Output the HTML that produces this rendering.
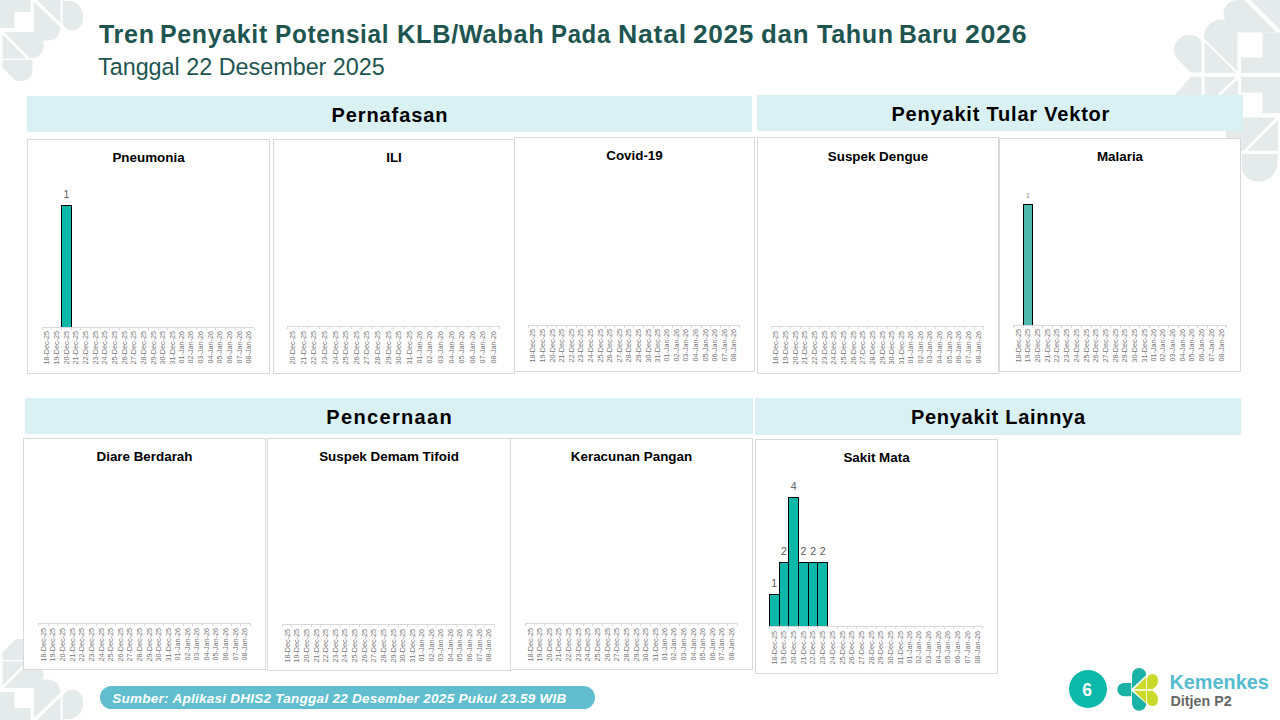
<!DOCTYPE html>
<html><head><meta charset="utf-8">
<style>
*{margin:0;padding:0;box-sizing:border-box}
html,body{width:1280px;height:720px;overflow:hidden;background:#fff}
body{position:relative;font-family:"Liberation Sans",sans-serif}
.abs{position:absolute}
#deco{position:absolute;left:0;top:0;width:1280px;height:720px}
#deco path{fill:#E5EBEB}
.tw{position:absolute;top:0;transform-origin:0 0}
.title{position:absolute;left:0;top:19.6px;font-size:25px;font-weight:bold;color:#1E5551;white-space:nowrap;letter-spacing:0.675px}
.sub{position:absolute;left:98px;top:53.8px;font-size:23.35px;color:#1E5551;white-space:nowrap}
.sec{position:absolute;background:#DAF1F3;font-weight:bold;font-size:20px;color:#000;text-align:center;white-space:nowrap}
.box{position:absolute;background:#fff;border:1px solid #D9D9D9}
.ctitle{position:absolute;width:200px;text-align:center;font-size:13.4px;font-weight:bold;color:#000;white-space:nowrap;line-height:15px}
.bar{position:absolute;border:1px solid #000}
.vlab{position:absolute;width:20px;text-align:center;line-height:1.2}
.axis{position:absolute;height:1px;background:#D9D9D9}
.tick{position:absolute;width:1px;height:2.5px;background:#D9D9D9}
.xl{position:absolute;width:0;height:0}
.xl span{position:absolute;right:0;top:0;transform-origin:100% 0;transform:rotate(-90deg) translate(0,-50%);font-size:7.2px;color:#737373;white-space:nowrap;line-height:8px}
.pill{position:absolute;left:100px;top:686px;width:495px;height:23px;border-radius:11.5px;background:#60BECE;color:#fff;font-weight:bold;font-style:italic;font-size:13.5px;line-height:25.4px;padding-left:12.3px;white-space:nowrap;letter-spacing:0.26px}
.pnum{position:absolute;left:1068.8px;top:669.6px;width:38px;height:38px;border-radius:50%;background:#0BB8AA;color:#fff;font-weight:bold;font-size:17.5px;text-align:center;line-height:40.6px;padding-right:1.2px}
.kem{position:absolute;left:1169.5px;top:671px;font-size:19.85px;font-weight:bold;color:#55BCD0;white-space:nowrap}
.dit{position:absolute;left:1170.5px;top:692.5px;font-size:14.3px;font-weight:bold;color:#666;white-space:nowrap}
</style></head><body>
<svg id="deco" viewBox="0 0 1280 720">
<g>
<path d="M0,0 H30.6 V11.9 H14.4 V28.1 H0 Z"/>
<path d="M37.2,0 H60.6 V23 Z"/>
<path d="M33.75,1.8 L60.6,27.6 A13,13 0 0 1 47.6,40.6 H33.75 Z"/>
<path d="M62.5,0.8 H68 A15,15 0 0 1 83,15.8 V19 A11,11 0 0 1 72,30 A9.5,9.5 0 0 1 62.5,23 Z"/>
<path d="M4.5,31.9 H30.5 A13.25,13.25 0 0 1 43.75,45.15 A13.6,13.6 0 0 1 30.15,58.75 L4.5,31.9 Z"/>
<path d="M2.5,34.6 L26.6,58.75 H2.5 Z"/>
<path d="M2.5,60 H32.5 V70.5 A10.5,10.5 0 0 1 22,81 H16 L2.5,67.5 Z"/>
</g>
<g transform="translate(0,720) scale(1,-1)">
<path d="M0,0 H30.6 V11.9 H14.4 V28.1 H0 Z"/>
<path d="M37.2,0 H60.6 V23 Z"/>
<path d="M33.75,1.8 L60.6,27.6 A13,13 0 0 1 47.6,40.6 H33.75 Z"/>
<path d="M62.5,0.8 H68 A15,15 0 0 1 83,15.8 V19 A11,11 0 0 1 72,30 A9.5,9.5 0 0 1 62.5,23 Z"/>
<path d="M4.5,31.9 H30.5 A13.25,13.25 0 0 1 43.75,45.15 A13.6,13.6 0 0 1 30.15,58.75 L4.5,31.9 Z"/>
<path d="M2.5,34.6 L26.6,58.75 H2.5 Z"/>
<path d="M2.5,60 H32.5 V70.5 A10.5,10.5 0 0 1 22,81 H16 L2.5,67.5 Z"/>
</g>
<g>
<path d="M1250.5,0 H1280 V29.5 Z"/>
<path d="M1244,0 L1276.5,32.5 H1238 L1231,25.5 A13.5,13.5 0 0 1 1236,0 Z"/>
<path d="M1204,38.5 A17.5,17.5 0 0 1 1237.5,30 V71.5 Z"/>
<path d="M1204.5,41.5 L1236,73 H1204.5 Z"/>
<path d="M1201.7,72.5 V41.4 A15,15 0 1 0 1176.7,58 L1190.5,72.5 Z"/>
<path d="M1262.5,32.5 H1280 V73 H1241 V57.5 H1262.5 Z"/>
<path d="M1175,95 L1191,76.7 H1201.7 V95 Z"/>
<path d="M1204.5,76.7 H1236 L1217.5,95 H1204.5 Z"/>
<path d="M1238,79 V95 H1221 Z"/>
<path d="M1241,76.7 H1280 V113.3 H1262.5 V92.5 H1241 Z"/>
<path d="M1226,117.5 H1276 L1243.5,150.8 H1226 Z"/>
<path d="M1278,120 V150.8 H1247 Z"/>
<path d="M1241.7,154 H1277.5 V163 A19,19 0 0 1 1258,181.7 A17,17 0 0 1 1241.7,168 Z"/>
</g>
</svg>
<div class="title"><span class="tw" style="left:98.75px;transform:scaleX(1.0028)">Tren</span><span class="tw" style="left:160.26px;transform:scaleX(0.9967)">Penyakit</span><span class="tw" style="left:274.95px;transform:scaleX(0.9735)">Potensial</span><span class="tw" style="left:396.97px;transform:scaleX(1.0135)">KLB/Wabah</span><span class="tw" style="left:550.58px;transform:scaleX(0.9583)">Pada</span><span class="tw" style="left:617.87px;transform:scaleX(1.0667)">Natal</span><span class="tw" style="left:693.35px;transform:scaleX(1.0464)">2025</span><span class="tw" style="left:761.26px;transform:scaleX(1.0372)">dan</span><span class="tw" style="left:816.90px;transform:scaleX(1.0047)">Tahun</span><span class="tw" style="left:898.62px;transform:scaleX(0.9891)">Baru</span><span class="tw" style="left:965.18px;transform:scaleX(1.0670)">2026</span></div>
<div class="sub">Tanggal 22 Desember 2025</div>
<div class="sec" style="left:27px;top:96px;width:725px;height:36px;line-height:38px;letter-spacing:0.92px;padding-left:0.92px">Pernafasan</div>
<div class="sec" style="left:757px;top:95px;width:485.5px;height:35.7px;line-height:39px;letter-spacing:0.8px;padding-left:2.2px">Penyakit Tular Vektor</div>
<div class="sec" style="left:25px;top:398px;width:728px;height:35.5px;line-height:38.5px;letter-spacing:1.34px;padding-left:1.34px">Pencernaan</div>
<div class="sec" style="left:755px;top:397.5px;width:486px;height:37.5px;line-height:38.5px;letter-spacing:0.72px;padding-left:0.72px">Penyakit Lainnya</div>
<div class="box" style="left:27px;top:139px;width:243px;height:235px"></div>
<div class="ctitle" style="left:48.5px;top:149.6px">Pneumonia</div>
<div class="bar" style="left:61.00px;top:205.30px;width:10.65px;height:122.80px;background:#0DB8AA"></div>
<div class="vlab" style="left:56.33px;top:188.03px;font-size:10.5px;color:#595959">1</div>
<div class="axis" style="left:42.20px;top:327.10px;width:212.30px"></div>
<div class="tick" style="left:41.70px;top:327.60px"></div>
<div class="tick" style="left:51.35px;top:327.60px"></div>
<div class="tick" style="left:61.00px;top:327.60px"></div>
<div class="tick" style="left:70.65px;top:327.60px"></div>
<div class="tick" style="left:80.30px;top:327.60px"></div>
<div class="tick" style="left:89.95px;top:327.60px"></div>
<div class="tick" style="left:99.60px;top:327.60px"></div>
<div class="tick" style="left:109.25px;top:327.60px"></div>
<div class="tick" style="left:118.90px;top:327.60px"></div>
<div class="tick" style="left:128.55px;top:327.60px"></div>
<div class="tick" style="left:138.20px;top:327.60px"></div>
<div class="tick" style="left:147.85px;top:327.60px"></div>
<div class="tick" style="left:157.50px;top:327.60px"></div>
<div class="tick" style="left:167.15px;top:327.60px"></div>
<div class="tick" style="left:176.80px;top:327.60px"></div>
<div class="tick" style="left:186.45px;top:327.60px"></div>
<div class="tick" style="left:196.10px;top:327.60px"></div>
<div class="tick" style="left:205.75px;top:327.60px"></div>
<div class="tick" style="left:215.40px;top:327.60px"></div>
<div class="tick" style="left:225.05px;top:327.60px"></div>
<div class="tick" style="left:234.70px;top:327.60px"></div>
<div class="tick" style="left:244.35px;top:327.60px"></div>
<div class="tick" style="left:254.00px;top:327.60px"></div>
<div class="xl" style="left:47.03px;top:330.50px"><span>18-Dec-25</span></div>
<div class="xl" style="left:56.68px;top:330.50px"><span>19-Dec-25</span></div>
<div class="xl" style="left:66.33px;top:330.50px"><span>20-Dec-25</span></div>
<div class="xl" style="left:75.97px;top:330.50px"><span>21-Dec-25</span></div>
<div class="xl" style="left:85.62px;top:330.50px"><span>22-Dec-25</span></div>
<div class="xl" style="left:95.28px;top:330.50px"><span>23-Dec-25</span></div>
<div class="xl" style="left:104.93px;top:330.50px"><span>24-Dec-25</span></div>
<div class="xl" style="left:114.58px;top:330.50px"><span>25-Dec-25</span></div>
<div class="xl" style="left:124.23px;top:330.50px"><span>26-Dec-25</span></div>
<div class="xl" style="left:133.88px;top:330.50px"><span>27-Dec-25</span></div>
<div class="xl" style="left:143.53px;top:330.50px"><span>28-Dec-25</span></div>
<div class="xl" style="left:153.18px;top:330.50px"><span>29-Dec-25</span></div>
<div class="xl" style="left:162.82px;top:330.50px"><span>30-Dec-25</span></div>
<div class="xl" style="left:172.48px;top:330.50px"><span>31-Dec-25</span></div>
<div class="xl" style="left:182.12px;top:330.50px"><span>01-Jan-26</span></div>
<div class="xl" style="left:191.78px;top:330.50px"><span>02-Jan-26</span></div>
<div class="xl" style="left:201.43px;top:330.50px"><span>03-Jan-26</span></div>
<div class="xl" style="left:211.07px;top:330.50px"><span>04-Jan-26</span></div>
<div class="xl" style="left:220.73px;top:330.50px"><span>05-Jan-26</span></div>
<div class="xl" style="left:230.38px;top:330.50px"><span>06-Jan-26</span></div>
<div class="xl" style="left:240.03px;top:330.50px"><span>07-Jan-26</span></div>
<div class="xl" style="left:249.68px;top:330.50px"><span>08-Jan-26</span></div><div class="box" style="left:273px;top:139px;width:242px;height:235px"></div>
<div class="ctitle" style="left:294.0px;top:149.6px">ILI</div>
<div class="axis" style="left:287.50px;top:325.90px;width:212.10px"></div>
<div class="tick" style="left:287.00px;top:326.40px"></div>
<div class="tick" style="left:297.61px;top:326.40px"></div>
<div class="tick" style="left:308.21px;top:326.40px"></div>
<div class="tick" style="left:318.81px;top:326.40px"></div>
<div class="tick" style="left:329.42px;top:326.40px"></div>
<div class="tick" style="left:340.02px;top:326.40px"></div>
<div class="tick" style="left:350.63px;top:326.40px"></div>
<div class="tick" style="left:361.24px;top:326.40px"></div>
<div class="tick" style="left:371.84px;top:326.40px"></div>
<div class="tick" style="left:382.44px;top:326.40px"></div>
<div class="tick" style="left:393.05px;top:326.40px"></div>
<div class="tick" style="left:403.65px;top:326.40px"></div>
<div class="tick" style="left:414.26px;top:326.40px"></div>
<div class="tick" style="left:424.87px;top:326.40px"></div>
<div class="tick" style="left:435.47px;top:326.40px"></div>
<div class="tick" style="left:446.08px;top:326.40px"></div>
<div class="tick" style="left:456.68px;top:326.40px"></div>
<div class="tick" style="left:467.28px;top:326.40px"></div>
<div class="tick" style="left:477.89px;top:326.40px"></div>
<div class="tick" style="left:488.50px;top:326.40px"></div>
<div class="tick" style="left:499.10px;top:326.40px"></div>
<div class="xl" style="left:292.80px;top:330.70px"><span>20-Dec-25</span></div>
<div class="xl" style="left:303.41px;top:330.70px"><span>21-Dec-25</span></div>
<div class="xl" style="left:314.01px;top:330.70px"><span>22-Dec-25</span></div>
<div class="xl" style="left:324.62px;top:330.70px"><span>23-Dec-25</span></div>
<div class="xl" style="left:335.22px;top:330.70px"><span>24-Dec-25</span></div>
<div class="xl" style="left:345.83px;top:330.70px"><span>25-Dec-25</span></div>
<div class="xl" style="left:356.43px;top:330.70px"><span>26-Dec-25</span></div>
<div class="xl" style="left:367.04px;top:330.70px"><span>27-Dec-25</span></div>
<div class="xl" style="left:377.64px;top:330.70px"><span>28-Dec-25</span></div>
<div class="xl" style="left:388.25px;top:330.70px"><span>29-Dec-25</span></div>
<div class="xl" style="left:398.85px;top:330.70px"><span>30-Dec-25</span></div>
<div class="xl" style="left:409.46px;top:330.70px"><span>31-Dec-25</span></div>
<div class="xl" style="left:420.06px;top:330.70px"><span>01-Jan-26</span></div>
<div class="xl" style="left:430.67px;top:330.70px"><span>02-Jan-26</span></div>
<div class="xl" style="left:441.27px;top:330.70px"><span>03-Jan-26</span></div>
<div class="xl" style="left:451.88px;top:330.70px"><span>04-Jan-26</span></div>
<div class="xl" style="left:462.48px;top:330.70px"><span>05-Jan-26</span></div>
<div class="xl" style="left:473.09px;top:330.70px"><span>06-Jan-26</span></div>
<div class="xl" style="left:483.69px;top:330.70px"><span>07-Jan-26</span></div>
<div class="xl" style="left:494.30px;top:330.70px"><span>08-Jan-26</span></div><div class="box" style="left:514px;top:137px;width:241px;height:235px"></div>
<div class="ctitle" style="left:534.5px;top:147.8px">Covid-19</div>
<div class="axis" style="left:528.10px;top:325.00px;width:211.50px"></div>
<div class="tick" style="left:527.60px;top:325.50px"></div>
<div class="tick" style="left:537.21px;top:325.50px"></div>
<div class="tick" style="left:546.83px;top:325.50px"></div>
<div class="tick" style="left:556.44px;top:325.50px"></div>
<div class="tick" style="left:566.05px;top:325.50px"></div>
<div class="tick" style="left:575.67px;top:325.50px"></div>
<div class="tick" style="left:585.28px;top:325.50px"></div>
<div class="tick" style="left:594.90px;top:325.50px"></div>
<div class="tick" style="left:604.51px;top:325.50px"></div>
<div class="tick" style="left:614.12px;top:325.50px"></div>
<div class="tick" style="left:623.74px;top:325.50px"></div>
<div class="tick" style="left:633.35px;top:325.50px"></div>
<div class="tick" style="left:642.96px;top:325.50px"></div>
<div class="tick" style="left:652.58px;top:325.50px"></div>
<div class="tick" style="left:662.19px;top:325.50px"></div>
<div class="tick" style="left:671.80px;top:325.50px"></div>
<div class="tick" style="left:681.42px;top:325.50px"></div>
<div class="tick" style="left:691.03px;top:325.50px"></div>
<div class="tick" style="left:700.65px;top:325.50px"></div>
<div class="tick" style="left:710.26px;top:325.50px"></div>
<div class="tick" style="left:719.87px;top:325.50px"></div>
<div class="tick" style="left:729.49px;top:325.50px"></div>
<div class="tick" style="left:739.10px;top:325.50px"></div>
<div class="xl" style="left:532.91px;top:328.70px"><span>18-Dec-25</span></div>
<div class="xl" style="left:542.52px;top:328.70px"><span>19-Dec-25</span></div>
<div class="xl" style="left:552.13px;top:328.70px"><span>20-Dec-25</span></div>
<div class="xl" style="left:561.75px;top:328.70px"><span>21-Dec-25</span></div>
<div class="xl" style="left:571.36px;top:328.70px"><span>22-Dec-25</span></div>
<div class="xl" style="left:580.98px;top:328.70px"><span>23-Dec-25</span></div>
<div class="xl" style="left:590.59px;top:328.70px"><span>24-Dec-25</span></div>
<div class="xl" style="left:600.20px;top:328.70px"><span>25-Dec-25</span></div>
<div class="xl" style="left:609.82px;top:328.70px"><span>26-Dec-25</span></div>
<div class="xl" style="left:619.43px;top:328.70px"><span>27-Dec-25</span></div>
<div class="xl" style="left:629.04px;top:328.70px"><span>28-Dec-25</span></div>
<div class="xl" style="left:638.66px;top:328.70px"><span>29-Dec-25</span></div>
<div class="xl" style="left:648.27px;top:328.70px"><span>30-Dec-25</span></div>
<div class="xl" style="left:657.88px;top:328.70px"><span>31-Dec-25</span></div>
<div class="xl" style="left:667.50px;top:328.70px"><span>01-Jan-26</span></div>
<div class="xl" style="left:677.11px;top:328.70px"><span>02-Jan-26</span></div>
<div class="xl" style="left:686.73px;top:328.70px"><span>03-Jan-26</span></div>
<div class="xl" style="left:696.34px;top:328.70px"><span>04-Jan-26</span></div>
<div class="xl" style="left:705.95px;top:328.70px"><span>05-Jan-26</span></div>
<div class="xl" style="left:715.57px;top:328.70px"><span>06-Jan-26</span></div>
<div class="xl" style="left:725.18px;top:328.70px"><span>07-Jan-26</span></div>
<div class="xl" style="left:734.79px;top:328.70px"><span>08-Jan-26</span></div><div class="box" style="left:757px;top:137px;width:242px;height:237px"></div>
<div class="ctitle" style="left:778.0px;top:148.9px">Suspek Dengue</div>
<div class="axis" style="left:771.20px;top:325.90px;width:212.60px"></div>
<div class="tick" style="left:770.70px;top:326.40px"></div>
<div class="tick" style="left:780.36px;top:326.40px"></div>
<div class="tick" style="left:790.03px;top:326.40px"></div>
<div class="tick" style="left:799.69px;top:326.40px"></div>
<div class="tick" style="left:809.35px;top:326.40px"></div>
<div class="tick" style="left:819.02px;top:326.40px"></div>
<div class="tick" style="left:828.68px;top:326.40px"></div>
<div class="tick" style="left:838.35px;top:326.40px"></div>
<div class="tick" style="left:848.01px;top:326.40px"></div>
<div class="tick" style="left:857.67px;top:326.40px"></div>
<div class="tick" style="left:867.34px;top:326.40px"></div>
<div class="tick" style="left:877.00px;top:326.40px"></div>
<div class="tick" style="left:886.66px;top:326.40px"></div>
<div class="tick" style="left:896.33px;top:326.40px"></div>
<div class="tick" style="left:905.99px;top:326.40px"></div>
<div class="tick" style="left:915.65px;top:326.40px"></div>
<div class="tick" style="left:925.32px;top:326.40px"></div>
<div class="tick" style="left:934.98px;top:326.40px"></div>
<div class="tick" style="left:944.65px;top:326.40px"></div>
<div class="tick" style="left:954.31px;top:326.40px"></div>
<div class="tick" style="left:963.97px;top:326.40px"></div>
<div class="tick" style="left:973.64px;top:326.40px"></div>
<div class="tick" style="left:983.30px;top:326.40px"></div>
<div class="xl" style="left:776.03px;top:330.70px"><span>18-Dec-25</span></div>
<div class="xl" style="left:785.70px;top:330.70px"><span>19-Dec-25</span></div>
<div class="xl" style="left:795.36px;top:330.70px"><span>20-Dec-25</span></div>
<div class="xl" style="left:805.02px;top:330.70px"><span>21-Dec-25</span></div>
<div class="xl" style="left:814.69px;top:330.70px"><span>22-Dec-25</span></div>
<div class="xl" style="left:824.35px;top:330.70px"><span>23-Dec-25</span></div>
<div class="xl" style="left:834.01px;top:330.70px"><span>24-Dec-25</span></div>
<div class="xl" style="left:843.68px;top:330.70px"><span>25-Dec-25</span></div>
<div class="xl" style="left:853.34px;top:330.70px"><span>26-Dec-25</span></div>
<div class="xl" style="left:863.00px;top:330.70px"><span>27-Dec-25</span></div>
<div class="xl" style="left:872.67px;top:330.70px"><span>28-Dec-25</span></div>
<div class="xl" style="left:882.33px;top:330.70px"><span>29-Dec-25</span></div>
<div class="xl" style="left:892.00px;top:330.70px"><span>30-Dec-25</span></div>
<div class="xl" style="left:901.66px;top:330.70px"><span>31-Dec-25</span></div>
<div class="xl" style="left:911.32px;top:330.70px"><span>01-Jan-26</span></div>
<div class="xl" style="left:920.99px;top:330.70px"><span>02-Jan-26</span></div>
<div class="xl" style="left:930.65px;top:330.70px"><span>03-Jan-26</span></div>
<div class="xl" style="left:940.31px;top:330.70px"><span>04-Jan-26</span></div>
<div class="xl" style="left:949.98px;top:330.70px"><span>05-Jan-26</span></div>
<div class="xl" style="left:959.64px;top:330.70px"><span>06-Jan-26</span></div>
<div class="xl" style="left:969.30px;top:330.70px"><span>07-Jan-26</span></div>
<div class="xl" style="left:978.97px;top:330.70px"><span>08-Jan-26</span></div><div class="box" style="left:999px;top:138px;width:242px;height:234px"></div>
<div class="ctitle" style="left:1020.0px;top:148.8px">Malaria</div>
<div class="bar" style="left:1022.60px;top:204.20px;width:10.70px;height:121.80px;background:#50B9AC"></div>
<div class="vlab" style="left:1017.95px;top:192.35px;font-size:7px;color:#8c8c8c">1</div>
<div class="axis" style="left:1013.40px;top:325.00px;width:213.40px"></div>
<div class="tick" style="left:1012.90px;top:325.50px"></div>
<div class="tick" style="left:1022.60px;top:325.50px"></div>
<div class="tick" style="left:1032.30px;top:325.50px"></div>
<div class="tick" style="left:1042.00px;top:325.50px"></div>
<div class="tick" style="left:1051.70px;top:325.50px"></div>
<div class="tick" style="left:1061.40px;top:325.50px"></div>
<div class="tick" style="left:1071.10px;top:325.50px"></div>
<div class="tick" style="left:1080.80px;top:325.50px"></div>
<div class="tick" style="left:1090.50px;top:325.50px"></div>
<div class="tick" style="left:1100.20px;top:325.50px"></div>
<div class="tick" style="left:1109.90px;top:325.50px"></div>
<div class="tick" style="left:1119.60px;top:325.50px"></div>
<div class="tick" style="left:1129.30px;top:325.50px"></div>
<div class="tick" style="left:1139.00px;top:325.50px"></div>
<div class="tick" style="left:1148.70px;top:325.50px"></div>
<div class="tick" style="left:1158.40px;top:325.50px"></div>
<div class="tick" style="left:1168.10px;top:325.50px"></div>
<div class="tick" style="left:1177.80px;top:325.50px"></div>
<div class="tick" style="left:1187.50px;top:325.50px"></div>
<div class="tick" style="left:1197.20px;top:325.50px"></div>
<div class="tick" style="left:1206.90px;top:325.50px"></div>
<div class="tick" style="left:1216.60px;top:325.50px"></div>
<div class="tick" style="left:1226.30px;top:325.50px"></div>
<div class="xl" style="left:1018.25px;top:328.70px"><span>18-Dec-25</span></div>
<div class="xl" style="left:1027.95px;top:328.70px"><span>19-Dec-25</span></div>
<div class="xl" style="left:1037.65px;top:328.70px"><span>20-Dec-25</span></div>
<div class="xl" style="left:1047.35px;top:328.70px"><span>21-Dec-25</span></div>
<div class="xl" style="left:1057.05px;top:328.70px"><span>22-Dec-25</span></div>
<div class="xl" style="left:1066.75px;top:328.70px"><span>23-Dec-25</span></div>
<div class="xl" style="left:1076.45px;top:328.70px"><span>24-Dec-25</span></div>
<div class="xl" style="left:1086.15px;top:328.70px"><span>25-Dec-25</span></div>
<div class="xl" style="left:1095.85px;top:328.70px"><span>26-Dec-25</span></div>
<div class="xl" style="left:1105.55px;top:328.70px"><span>27-Dec-25</span></div>
<div class="xl" style="left:1115.25px;top:328.70px"><span>28-Dec-25</span></div>
<div class="xl" style="left:1124.95px;top:328.70px"><span>29-Dec-25</span></div>
<div class="xl" style="left:1134.65px;top:328.70px"><span>30-Dec-25</span></div>
<div class="xl" style="left:1144.35px;top:328.70px"><span>31-Dec-25</span></div>
<div class="xl" style="left:1154.05px;top:328.70px"><span>01-Jan-26</span></div>
<div class="xl" style="left:1163.75px;top:328.70px"><span>02-Jan-26</span></div>
<div class="xl" style="left:1173.45px;top:328.70px"><span>03-Jan-26</span></div>
<div class="xl" style="left:1183.15px;top:328.70px"><span>04-Jan-26</span></div>
<div class="xl" style="left:1192.85px;top:328.70px"><span>05-Jan-26</span></div>
<div class="xl" style="left:1202.55px;top:328.70px"><span>06-Jan-26</span></div>
<div class="xl" style="left:1212.25px;top:328.70px"><span>07-Jan-26</span></div>
<div class="xl" style="left:1221.95px;top:328.70px"><span>08-Jan-26</span></div><div class="box" style="left:23px;top:438px;width:243px;height:232px"></div>
<div class="ctitle" style="left:44.5px;top:449.3px">Diare Berdarah</div>
<div class="axis" style="left:38.40px;top:623.00px;width:212.20px"></div>
<div class="tick" style="left:37.90px;top:623.50px"></div>
<div class="tick" style="left:47.55px;top:623.50px"></div>
<div class="tick" style="left:57.19px;top:623.50px"></div>
<div class="tick" style="left:66.84px;top:623.50px"></div>
<div class="tick" style="left:76.48px;top:623.50px"></div>
<div class="tick" style="left:86.13px;top:623.50px"></div>
<div class="tick" style="left:95.77px;top:623.50px"></div>
<div class="tick" style="left:105.42px;top:623.50px"></div>
<div class="tick" style="left:115.06px;top:623.50px"></div>
<div class="tick" style="left:124.71px;top:623.50px"></div>
<div class="tick" style="left:134.35px;top:623.50px"></div>
<div class="tick" style="left:144.00px;top:623.50px"></div>
<div class="tick" style="left:153.65px;top:623.50px"></div>
<div class="tick" style="left:163.29px;top:623.50px"></div>
<div class="tick" style="left:172.94px;top:623.50px"></div>
<div class="tick" style="left:182.58px;top:623.50px"></div>
<div class="tick" style="left:192.23px;top:623.50px"></div>
<div class="tick" style="left:201.87px;top:623.50px"></div>
<div class="tick" style="left:211.52px;top:623.50px"></div>
<div class="tick" style="left:221.16px;top:623.50px"></div>
<div class="tick" style="left:230.81px;top:623.50px"></div>
<div class="tick" style="left:240.45px;top:623.50px"></div>
<div class="tick" style="left:250.10px;top:623.50px"></div>
<div class="xl" style="left:43.22px;top:627.70px"><span>18-Dec-25</span></div>
<div class="xl" style="left:52.87px;top:627.70px"><span>19-Dec-25</span></div>
<div class="xl" style="left:62.51px;top:627.70px"><span>20-Dec-25</span></div>
<div class="xl" style="left:72.16px;top:627.70px"><span>21-Dec-25</span></div>
<div class="xl" style="left:81.80px;top:627.70px"><span>22-Dec-25</span></div>
<div class="xl" style="left:91.45px;top:627.70px"><span>23-Dec-25</span></div>
<div class="xl" style="left:101.10px;top:627.70px"><span>24-Dec-25</span></div>
<div class="xl" style="left:110.74px;top:627.70px"><span>25-Dec-25</span></div>
<div class="xl" style="left:120.39px;top:627.70px"><span>26-Dec-25</span></div>
<div class="xl" style="left:130.03px;top:627.70px"><span>27-Dec-25</span></div>
<div class="xl" style="left:139.68px;top:627.70px"><span>28-Dec-25</span></div>
<div class="xl" style="left:149.32px;top:627.70px"><span>29-Dec-25</span></div>
<div class="xl" style="left:158.97px;top:627.70px"><span>30-Dec-25</span></div>
<div class="xl" style="left:168.61px;top:627.70px"><span>31-Dec-25</span></div>
<div class="xl" style="left:178.26px;top:627.70px"><span>01-Jan-26</span></div>
<div class="xl" style="left:187.90px;top:627.70px"><span>02-Jan-26</span></div>
<div class="xl" style="left:197.55px;top:627.70px"><span>03-Jan-26</span></div>
<div class="xl" style="left:207.20px;top:627.70px"><span>04-Jan-26</span></div>
<div class="xl" style="left:216.84px;top:627.70px"><span>05-Jan-26</span></div>
<div class="xl" style="left:226.49px;top:627.70px"><span>06-Jan-26</span></div>
<div class="xl" style="left:236.13px;top:627.70px"><span>07-Jan-26</span></div>
<div class="xl" style="left:245.78px;top:627.70px"><span>08-Jan-26</span></div><div class="box" style="left:267px;top:438px;width:244px;height:233px"></div>
<div class="ctitle" style="left:289.0px;top:449.3px">Suspek Demam Tifoid</div>
<div class="axis" style="left:282.30px;top:623.90px;width:212.30px"></div>
<div class="tick" style="left:281.80px;top:624.40px"></div>
<div class="tick" style="left:291.45px;top:624.40px"></div>
<div class="tick" style="left:301.10px;top:624.40px"></div>
<div class="tick" style="left:310.75px;top:624.40px"></div>
<div class="tick" style="left:320.40px;top:624.40px"></div>
<div class="tick" style="left:330.05px;top:624.40px"></div>
<div class="tick" style="left:339.70px;top:624.40px"></div>
<div class="tick" style="left:349.35px;top:624.40px"></div>
<div class="tick" style="left:359.00px;top:624.40px"></div>
<div class="tick" style="left:368.65px;top:624.40px"></div>
<div class="tick" style="left:378.30px;top:624.40px"></div>
<div class="tick" style="left:387.95px;top:624.40px"></div>
<div class="tick" style="left:397.60px;top:624.40px"></div>
<div class="tick" style="left:407.25px;top:624.40px"></div>
<div class="tick" style="left:416.90px;top:624.40px"></div>
<div class="tick" style="left:426.55px;top:624.40px"></div>
<div class="tick" style="left:436.20px;top:624.40px"></div>
<div class="tick" style="left:445.85px;top:624.40px"></div>
<div class="tick" style="left:455.50px;top:624.40px"></div>
<div class="tick" style="left:465.15px;top:624.40px"></div>
<div class="tick" style="left:474.80px;top:624.40px"></div>
<div class="tick" style="left:484.45px;top:624.40px"></div>
<div class="tick" style="left:494.10px;top:624.40px"></div>
<div class="xl" style="left:287.12px;top:628.70px"><span>18-Dec-25</span></div>
<div class="xl" style="left:296.78px;top:628.70px"><span>19-Dec-25</span></div>
<div class="xl" style="left:306.43px;top:628.70px"><span>20-Dec-25</span></div>
<div class="xl" style="left:316.07px;top:628.70px"><span>21-Dec-25</span></div>
<div class="xl" style="left:325.73px;top:628.70px"><span>22-Dec-25</span></div>
<div class="xl" style="left:335.38px;top:628.70px"><span>23-Dec-25</span></div>
<div class="xl" style="left:345.03px;top:628.70px"><span>24-Dec-25</span></div>
<div class="xl" style="left:354.68px;top:628.70px"><span>25-Dec-25</span></div>
<div class="xl" style="left:364.33px;top:628.70px"><span>26-Dec-25</span></div>
<div class="xl" style="left:373.98px;top:628.70px"><span>27-Dec-25</span></div>
<div class="xl" style="left:383.62px;top:628.70px"><span>28-Dec-25</span></div>
<div class="xl" style="left:393.28px;top:628.70px"><span>29-Dec-25</span></div>
<div class="xl" style="left:402.93px;top:628.70px"><span>30-Dec-25</span></div>
<div class="xl" style="left:412.58px;top:628.70px"><span>31-Dec-25</span></div>
<div class="xl" style="left:422.23px;top:628.70px"><span>01-Jan-26</span></div>
<div class="xl" style="left:431.88px;top:628.70px"><span>02-Jan-26</span></div>
<div class="xl" style="left:441.52px;top:628.70px"><span>03-Jan-26</span></div>
<div class="xl" style="left:451.18px;top:628.70px"><span>04-Jan-26</span></div>
<div class="xl" style="left:460.83px;top:628.70px"><span>05-Jan-26</span></div>
<div class="xl" style="left:470.48px;top:628.70px"><span>06-Jan-26</span></div>
<div class="xl" style="left:480.12px;top:628.70px"><span>07-Jan-26</span></div>
<div class="xl" style="left:489.77px;top:628.70px"><span>08-Jan-26</span></div><div class="box" style="left:510px;top:438px;width:243px;height:232px"></div>
<div class="ctitle" style="left:531.5px;top:449.3px">Keracunan Pangan</div>
<div class="axis" style="left:525.30px;top:623.00px;width:212.00px"></div>
<div class="tick" style="left:524.80px;top:623.50px"></div>
<div class="tick" style="left:534.44px;top:623.50px"></div>
<div class="tick" style="left:544.07px;top:623.50px"></div>
<div class="tick" style="left:553.71px;top:623.50px"></div>
<div class="tick" style="left:563.35px;top:623.50px"></div>
<div class="tick" style="left:572.98px;top:623.50px"></div>
<div class="tick" style="left:582.62px;top:623.50px"></div>
<div class="tick" style="left:592.25px;top:623.50px"></div>
<div class="tick" style="left:601.89px;top:623.50px"></div>
<div class="tick" style="left:611.53px;top:623.50px"></div>
<div class="tick" style="left:621.16px;top:623.50px"></div>
<div class="tick" style="left:630.80px;top:623.50px"></div>
<div class="tick" style="left:640.44px;top:623.50px"></div>
<div class="tick" style="left:650.07px;top:623.50px"></div>
<div class="tick" style="left:659.71px;top:623.50px"></div>
<div class="tick" style="left:669.35px;top:623.50px"></div>
<div class="tick" style="left:678.98px;top:623.50px"></div>
<div class="tick" style="left:688.62px;top:623.50px"></div>
<div class="tick" style="left:698.25px;top:623.50px"></div>
<div class="tick" style="left:707.89px;top:623.50px"></div>
<div class="tick" style="left:717.53px;top:623.50px"></div>
<div class="tick" style="left:727.16px;top:623.50px"></div>
<div class="tick" style="left:736.80px;top:623.50px"></div>
<div class="xl" style="left:530.12px;top:627.70px"><span>18-Dec-25</span></div>
<div class="xl" style="left:539.75px;top:627.70px"><span>19-Dec-25</span></div>
<div class="xl" style="left:549.39px;top:627.70px"><span>20-Dec-25</span></div>
<div class="xl" style="left:559.03px;top:627.70px"><span>21-Dec-25</span></div>
<div class="xl" style="left:568.66px;top:627.70px"><span>22-Dec-25</span></div>
<div class="xl" style="left:578.30px;top:627.70px"><span>23-Dec-25</span></div>
<div class="xl" style="left:587.94px;top:627.70px"><span>24-Dec-25</span></div>
<div class="xl" style="left:597.57px;top:627.70px"><span>25-Dec-25</span></div>
<div class="xl" style="left:607.21px;top:627.70px"><span>26-Dec-25</span></div>
<div class="xl" style="left:616.85px;top:627.70px"><span>27-Dec-25</span></div>
<div class="xl" style="left:626.48px;top:627.70px"><span>28-Dec-25</span></div>
<div class="xl" style="left:636.12px;top:627.70px"><span>29-Dec-25</span></div>
<div class="xl" style="left:645.75px;top:627.70px"><span>30-Dec-25</span></div>
<div class="xl" style="left:655.39px;top:627.70px"><span>31-Dec-25</span></div>
<div class="xl" style="left:665.03px;top:627.70px"><span>01-Jan-26</span></div>
<div class="xl" style="left:674.66px;top:627.70px"><span>02-Jan-26</span></div>
<div class="xl" style="left:684.30px;top:627.70px"><span>03-Jan-26</span></div>
<div class="xl" style="left:693.94px;top:627.70px"><span>04-Jan-26</span></div>
<div class="xl" style="left:703.57px;top:627.70px"><span>05-Jan-26</span></div>
<div class="xl" style="left:713.21px;top:627.70px"><span>06-Jan-26</span></div>
<div class="xl" style="left:722.85px;top:627.70px"><span>07-Jan-26</span></div>
<div class="xl" style="left:732.48px;top:627.70px"><span>08-Jan-26</span></div><div class="box" style="left:755px;top:439px;width:243px;height:235px"></div>
<div class="ctitle" style="left:776.5px;top:450.1px">Sakit Mata</div>
<div class="bar" style="left:768.90px;top:594.00px;width:10.70px;height:32.70px;background:#0DB8AA"></div>
<div class="vlab" style="left:764.25px;top:576.73px;font-size:10.5px;color:#595959">1</div>
<div class="bar" style="left:778.60px;top:561.80px;width:10.70px;height:64.90px;background:#0DB8AA"></div>
<div class="vlab" style="left:773.95px;top:544.53px;font-size:10.5px;color:#595959">2</div>
<div class="bar" style="left:788.30px;top:497.40px;width:10.70px;height:129.30px;background:#0DB8AA"></div>
<div class="vlab" style="left:783.65px;top:480.13px;font-size:10.5px;color:#595959">4</div>
<div class="bar" style="left:798.00px;top:561.80px;width:10.70px;height:64.90px;background:#0DB8AA"></div>
<div class="vlab" style="left:793.35px;top:544.53px;font-size:10.5px;color:#595959">2</div>
<div class="bar" style="left:807.70px;top:561.80px;width:10.70px;height:64.90px;background:#0DB8AA"></div>
<div class="vlab" style="left:803.05px;top:544.53px;font-size:10.5px;color:#595959">2</div>
<div class="bar" style="left:817.40px;top:561.80px;width:10.70px;height:64.90px;background:#0DB8AA"></div>
<div class="vlab" style="left:812.75px;top:544.53px;font-size:10.5px;color:#595959">2</div>
<div class="axis" style="left:769.40px;top:625.70px;width:213.40px"></div>
<div class="tick" style="left:768.90px;top:626.20px"></div>
<div class="tick" style="left:778.60px;top:626.20px"></div>
<div class="tick" style="left:788.30px;top:626.20px"></div>
<div class="tick" style="left:798.00px;top:626.20px"></div>
<div class="tick" style="left:807.70px;top:626.20px"></div>
<div class="tick" style="left:817.40px;top:626.20px"></div>
<div class="tick" style="left:827.10px;top:626.20px"></div>
<div class="tick" style="left:836.80px;top:626.20px"></div>
<div class="tick" style="left:846.50px;top:626.20px"></div>
<div class="tick" style="left:856.20px;top:626.20px"></div>
<div class="tick" style="left:865.90px;top:626.20px"></div>
<div class="tick" style="left:875.60px;top:626.20px"></div>
<div class="tick" style="left:885.30px;top:626.20px"></div>
<div class="tick" style="left:895.00px;top:626.20px"></div>
<div class="tick" style="left:904.70px;top:626.20px"></div>
<div class="tick" style="left:914.40px;top:626.20px"></div>
<div class="tick" style="left:924.10px;top:626.20px"></div>
<div class="tick" style="left:933.80px;top:626.20px"></div>
<div class="tick" style="left:943.50px;top:626.20px"></div>
<div class="tick" style="left:953.20px;top:626.20px"></div>
<div class="tick" style="left:962.90px;top:626.20px"></div>
<div class="tick" style="left:972.60px;top:626.20px"></div>
<div class="tick" style="left:982.30px;top:626.20px"></div>
<div class="xl" style="left:774.25px;top:630.50px"><span>18-Dec-25</span></div>
<div class="xl" style="left:783.95px;top:630.50px"><span>19-Dec-25</span></div>
<div class="xl" style="left:793.65px;top:630.50px"><span>20-Dec-25</span></div>
<div class="xl" style="left:803.35px;top:630.50px"><span>21-Dec-25</span></div>
<div class="xl" style="left:813.05px;top:630.50px"><span>22-Dec-25</span></div>
<div class="xl" style="left:822.75px;top:630.50px"><span>23-Dec-25</span></div>
<div class="xl" style="left:832.45px;top:630.50px"><span>24-Dec-25</span></div>
<div class="xl" style="left:842.15px;top:630.50px"><span>25-Dec-25</span></div>
<div class="xl" style="left:851.85px;top:630.50px"><span>26-Dec-25</span></div>
<div class="xl" style="left:861.55px;top:630.50px"><span>27-Dec-25</span></div>
<div class="xl" style="left:871.25px;top:630.50px"><span>28-Dec-25</span></div>
<div class="xl" style="left:880.95px;top:630.50px"><span>29-Dec-25</span></div>
<div class="xl" style="left:890.65px;top:630.50px"><span>30-Dec-25</span></div>
<div class="xl" style="left:900.35px;top:630.50px"><span>31-Dec-25</span></div>
<div class="xl" style="left:910.05px;top:630.50px"><span>01-Jan-26</span></div>
<div class="xl" style="left:919.75px;top:630.50px"><span>02-Jan-26</span></div>
<div class="xl" style="left:929.45px;top:630.50px"><span>03-Jan-26</span></div>
<div class="xl" style="left:939.15px;top:630.50px"><span>04-Jan-26</span></div>
<div class="xl" style="left:948.85px;top:630.50px"><span>05-Jan-26</span></div>
<div class="xl" style="left:958.55px;top:630.50px"><span>06-Jan-26</span></div>
<div class="xl" style="left:968.25px;top:630.50px"><span>07-Jan-26</span></div>
<div class="xl" style="left:977.95px;top:630.50px"><span>08-Jan-26</span></div>
<div class="pill">Sumber: Aplikasi DHIS2 Tanggal 22 Desember 2025 Pukul 23.59 WIB</div>
<div class="pnum">6</div>
<svg class="abs" style="left:1110px;top:660px" width="60" height="60" viewBox="0 0 60 60">
<path fill="#1AB3A6" d="M21.25,22.9 H14 A6.67,6.67 0 0 0 14,36.25 H21.25 Z"/>
<path fill="#1AB3A6" d="M22,28.6 V15.1 A7.1,7.1 0 0 1 36.25,15.1 Z"/>
<path fill="#1AB3A6" d="M22,31.2 V43.7 A7.1,7.1 0 0 0 36.25,43.7 Z"/>
<path fill="#C9DA2A" d="M24,29.2 L36.2,17 V29.2 Z"/>
<path fill="#C9DA2A" d="M24,30.8 L36.2,43 V30.8 Z"/>
<path fill="#C9DA2A" d="M37,29.2 V19.4 A5.45,5.45 0 0 1 47.9,19.4 V21.5 C47.9,24.5 46.5,26 44.6,27.6 L42.8,29.2 Z"/>
<path fill="#C9DA2A" d="M37,30.8 V40.6 A5.45,5.45 0 0 0 47.9,40.6 V38.5 C47.9,35.5 46.5,34 44.6,32.4 L42.8,30.8 Z"/>
</svg>
<div class="kem">Kemenkes</div>
<div class="dit">Ditjen P2</div>
</body></html>
